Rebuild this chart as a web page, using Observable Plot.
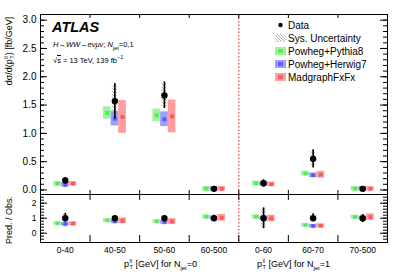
<!DOCTYPE html>
<html><head><meta charset="utf-8">
<script src="https://cdn.jsdelivr.net/npm/d3@7"></script>
<script src="https://cdn.jsdelivr.net/npm/@observablehq/plot@0.6"></script>
<style>
body{margin:0;background:#fff;font-family:"Liberation Sans",Arial,sans-serif;}
#wrap{position:relative;width:407px;height:278px;overflow:hidden;}
.abs{position:absolute;white-space:nowrap;color:#000;}
.pt{display:inline-flex;flex-direction:column;vertical-align:middle;font-size:0.62em;line-height:0.95em;margin-left:0.5px;}
</style></head>
<body><div id="wrap"></div>
<script>
// ---- data ----
const categories = ["0-40","40-50","50-60","60-500","0-60","60-70","70-500"];
const nJet0Bins = 4;
const dataValue = [0.168, 1.57, 1.67, 0.02, 0.12, 0.55, 0.02];
const dataErrLo = [0.11, 1.26, 1.44, 0.005, 0.05, 0.39, 0.005];
const dataErrHi = [0.22, 1.88, 1.91, 0.035, 0.18, 0.71, 0.035];
const sysLo = [0.13, 1.29, 1.46, 0.01, 0.06, 0.43, 0.01];
const sysHi = [0.21, 1.84, 1.88, 0.03, 0.17, 0.68, 0.03];
const pythia = [0.11, 1.36, 1.32, 0.02, 0.115, 0.29, 0.02];
const pythiaUnc = [0.04, 0.11, 0.11, 0.04, 0.04, 0.04, 0.04];
const herwig = [0.09, 1.26, 1.25, 0.02, 0.11, 0.26, 0.02];
const herwigUnc = [0.04, 0.13, 0.13, 0.04, 0.04, 0.04, 0.04];
const madgraph = [0.11, 1.29, 1.30, 0.02, 0.10, 0.27, 0.02];
const madgraphUnc = [0.04, 0.29, 0.29, 0.04, 0.04, 0.06, 0.04];
// ratio panel
const ratioErrLo = [0.73, 0.90, 0.93, 0.80, 0.30, 0.78, 0.71];
const ratioErrHi = [1.33, 1.10, 1.07, 1.20, 1.69, 1.29, 1.25];
const ratioSysLo = [0.78, 0.92, 0.94, 0.83, 0.36, 0.80, 0.75];
const ratioSysHi = [1.28, 1.08, 1.06, 1.17, 1.62, 1.25, 1.22];
const pythiaRatio = [0.65, 0.85, 0.78, 1.09, 1.09, 0.53, 1.07];
const pythiaRatioUnc = [0.12, 0.12, 0.12, 0.13, 0.13, 0.12, 0.13];
const herwigRatio = [0.60, 0.78, 0.73, 1.00, 1.00, 0.47, 1.00];
const herwigRatioUnc = [0.12, 0.13, 0.13, 0.13, 0.13, 0.12, 0.13];
const madgraphRatio = [0.63, 0.83, 0.78, 1.03, 0.98, 0.49, 1.07];
const madgraphRatioUnc = [0.13, 0.19, 0.19, 0.22, 0.22, 0.14, 0.22];
const yTicksTop = [0, 0.5, 1, 1.5, 2, 2.5, 3];
const yTicksBottom = [0, 1, 2];
const seriesNames = ["Powheg+Pythia8", "Powheg+Herwig7", "MadgraphFxFx"];
const seriesColors = ["#00e000", "#0000ff", "#ff0000"];

// ---- build tables ----
const off = [-0.155, 0, 0.155], hw = 0.077;
function modelRows(vals, uncs, s) {
  return vals.map((v, i) => ({i, s, v, lo: v - uncs[i], hi: v + uncs[i]}));
}
const topModels = [
  ...modelRows(pythia, pythiaUnc, 0), ...modelRows(herwig, herwigUnc, 1), ...modelRows(madgraph, madgraphUnc, 2)];
const botModels = [
  ...modelRows(pythiaRatio, pythiaRatioUnc, 0), ...modelRows(herwigRatio, herwigRatioUnc, 1), ...modelRows(madgraphRatio, madgraphRatioUnc, 2)];
const topData = categories.map((c, i) => ({i, v: dataValue[i], lo: dataErrLo[i], hi: dataErrHi[i], slo: sysLo[i], shi: sysHi[i]}));
const botData = categories.map((c, i) => ({i, v: 1, lo: ratioErrLo[i], hi: ratioErrHi[i], slo: ratioSysLo[i], shi: ratioSysHi[i]}));
const boundaries = d3.range(1, categories.length);
const centers = categories.map((c, i) => i + 0.5);

const W = 407, ML = 40, MR = 20;
const xScale = {domain: [0, categories.length], range: [ML, W - MR]};
const colorScale = {type: "ordinal", domain: [0, 1, 2], range: seriesColors};

function panelMarks(models, pts, frameH, topTickIn, botTickIn, majors, minors, fontSize, hatchId) {
  return [
    Plot.rect(models, {x1: d => d.i + 0.5 + off[d.s] - hw, x2: d => d.i + 0.5 + off[d.s] + hw, y1: "lo", y2: "hi", fill: "s", fillOpacity: 0.38}),
    Plot.dot(models, {x: d => d.i + 0.5 + off[d.s], y: "v", symbol: "square", r: 2.2, fill: "s", fillOpacity: 0.45}),
    Plot.rect(pts, {x1: d => d.i + 0.5 - 0.05, x2: d => d.i + 0.5 + 0.05, y1: "slo", y2: "shi", fill: `url(#${hatchId})`}),
    Plot.ruleX(pts, {x: d => d.i + 0.5, y1: "lo", y2: "hi", stroke: "#000", strokeWidth: 1.6}),
    Plot.dot(pts, {x: d => d.i + 0.5, y: "v", r: 3.2, fill: "#000", stroke: null}),
    Plot.ruleX([nJet0Bins], {x: d => d, stroke: "#e03a3a", strokeWidth: 1.2, strokeDasharray: "1.5,2"}),
    // boundary ticks
    Plot.tickX(boundaries, {x: d => d, insetBottom: frameH - topTickIn, stroke: "#000"}),
    Plot.tickX(boundaries, {x: d => d, insetTop: frameH - botTickIn, stroke: "#000"}),
    // y ticks (inside, both sides)
    Plot.tickY(majors, {y: d => d, insetRight: W - ML - MR - 7, stroke: "#000"}),
    Plot.tickY(majors, {y: d => d, insetLeft: W - ML - MR - 7, stroke: "#000"}),
    Plot.tickY(minors, {y: d => d, insetRight: W - ML - MR - 4, stroke: "#000"}),
    Plot.tickY(minors, {y: d => d, insetLeft: W - ML - MR - 4, stroke: "#000"}),
    Plot.axisY(majors, {tickSize: 0, tickPadding: 4, fontSize, label: null}),
    Plot.frame({stroke: "#000", strokeWidth: 1})
  ];
}

function hatchPattern(sel, id) {
  const p = sel.append("pattern").attr("id", id).attr("patternUnits", "userSpaceOnUse")
    .attr("width", 3).attr("height", 3);
  p.append("path").attr("d", "M-1,-1L4,4M-1,2L1,4M2,-1L4,1").attr("stroke", "#8a8a8a").attr("stroke-width", 0.7);
}
function addHatch(svg, id) {
  hatchPattern(d3.select(svg).insert("defs", ":first-child"), id);
}

const wrap = document.getElementById("wrap");

const topMinors = d3.range(0, 3.1, 0.1).map(v => +v.toFixed(2));
const topSvg = Plot.plot({
  width: W, height: 195, marginTop: 14, marginBottom: 1, marginLeft: ML, marginRight: MR,
  style: {fontFamily: "Liberation Sans, Arial, sans-serif", background: "transparent"},
  x: {...xScale, axis: null},
  y: {domain: [-0.08, 3.1], axis: null},
  color: colorScale,
  marks: panelMarks(topModels, topData, 180, 4, 4, yTicksTop, topMinors, 10, "hatch1")
});
addHatch(topSvg, "hatch1");
topSvg.style.position = "absolute"; topSvg.style.left = "0px"; topSvg.style.top = "0px";
wrap.appendChild(topSvg);

const botMinors = d3.range(-0.4, 2.5, 0.2).map(v => +v.toFixed(2));
const botSvg = Plot.plot({
  width: W, height: 88, marginTop: 4, marginBottom: 36, marginLeft: ML, marginRight: MR,
  style: {fontFamily: "Liberation Sans, Arial, sans-serif", background: "transparent"},
  x: {...xScale},
  y: {domain: [-0.62, 2.58], axis: null},
  color: colorScale,
  marks: [
    ...panelMarks(botModels, botData, 48, 6, 7, yTicksBottom, botMinors, 8.5, "hatch2"),
    Plot.axisX(centers, {tickSize: 0, tickPadding: 4, fontSize: 8.5, label: null, tickFormat: d => categories[Math.floor(d)]})
  ]
});
addHatch(botSvg, "hatch2");
botSvg.style.position = "absolute"; botSvg.style.left = "0px"; botSvg.style.top = "190px";
wrap.appendChild(botSvg);

// ---- texts ----
function add(html, css) {
  const d = document.createElement("div");
  d.className = "abs"; d.innerHTML = html; d.style.cssText += css; wrap.appendChild(d); return d;
}
const ptll = 'p<span class="pt"><span>ll</span><span>T</span></span>';
add('<b><i>ATLAS</i></b>', "left:52px;top:19px;font-size:14.5px;");
add('<i>H</i>&#8594;<i>WW</i>&#8594;<i>e&#957;&#956;&#957;</i>; <i>N</i><sub style="font-size:5.5px">jet</sub>=0,1', "left:53px;top:40px;font-size:7.5px;");
add('&#8730;<span style="text-decoration:overline">s</span> = 13 TeV, 139 fb<sup style="font-size:5.5px">&#8722;1</sup>', "left:53px;top:54px;font-size:7.5px;");
add('d&#963;/d(' + ptll + ') [fb/GeV]', "left:9px;top:51px;font-size:9px;transform:translate(-50%,-50%) rotate(-90deg);");
add('Pred. / Obs.', "left:9px;top:220px;font-size:9px;transform:translate(-50%,-50%) rotate(-90deg);");
add(ptll + ' [GeV] for N<sub style="font-size:6px">jet</sub>=0', "right:" + (W - 197) + "px;top:259px;font-size:9px;");
add(ptll + ' [GeV] for N<sub style="font-size:6px">jet</sub>=1', "right:" + (W - 330) + "px;top:259px;font-size:9px;");

// ---- legend ----
const leg = d3.select(wrap).append("svg").attr("width", W).attr("height", 100)
  .style("position", "absolute").style("left", "0px").style("top", "0px");
hatchPattern(leg.append("defs"), "hatchL");
const lx = 275, lw = 11, rows = [25, 38, 51, 64, 77];
leg.append("circle").attr("cx", lx + lw / 2).attr("cy", rows[0]).attr("r", 2.2).attr("fill", "#000");
leg.append("rect").attr("x", lx).attr("y", rows[1] - 4).attr("width", lw).attr("height", 8).attr("fill", "url(#hatchL)");
seriesNames.forEach((n, k) => {
  leg.append("rect").attr("x", lx).attr("y", rows[k + 2] - 4).attr("width", lw).attr("height", 8)
    .attr("fill", seriesColors[k]).attr("fill-opacity", 0.38);
  leg.append("rect").attr("x", lx + 3).attr("y", rows[k + 2] - 2).attr("width", 5).attr("height", 4)
    .attr("fill", seriesColors[k]).attr("fill-opacity", 0.4);
});
["Data", "Sys. Uncertainty", ...seriesNames].forEach((t, k) => {
  leg.append("text").attr("x", lx + lw + 2).attr("y", rows[k]).attr("dy", "0.36em")
    .attr("font-size", 10).attr("font-family", "Liberation Sans, Arial, sans-serif").text(t);
});
</script>
</body></html>
